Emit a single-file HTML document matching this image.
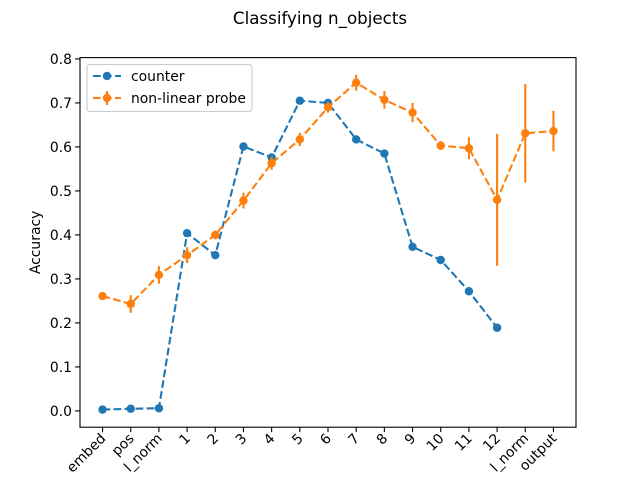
<!DOCTYPE html>
<html><head><meta charset="utf-8"><style>
body{margin:0;background:#fff;font-family:"Liberation Sans","DejaVu Sans",sans-serif;}
svg text{font-family:"DejaVu Sans","Liberation Sans",sans-serif;}
</style></head><body>
<svg id="chart" width="640" height="480" xmlns="http://www.w3.org/2000/svg"></svg>
<script>
const categories=["embed","pos","l_norm","1","2","3","4","5","6","7","8","9","10","11","12","l_norm","output"];
const counterValues=[0.003,0.005,0.006,0.404,0.354,0.601,0.576,0.705,0.700,0.617,0.585,0.373,0.343,0.272,0.189];
const probeValues=[0.261,0.243,0.309,0.354,0.400,0.478,0.563,0.617,0.690,0.746,0.707,0.678,0.603,0.597,0.480,0.631,0.636];
const probeErrors=[0.008,0.02,0.02,0.018,0.01,0.018,0.015,0.015,0.012,0.018,0.02,0.022,0.01,0.025,0.15,0.112,0.046];
const yTicks=[0.0,0.1,0.2,0.3,0.4,0.5,0.6,0.7,0.8];
const NS="http://www.w3.org/2000/svg";
const svg=document.getElementById('chart');
const L=80,R=576,T=57.6,B=427.2;
const FS=13.9;
const xs=i=>L+(i+0.8)/17.6*(R-L);
const ys=v=>B-(v+0.037)/0.84*(B-T);
function mk(tag,attrs,parent){const e=document.createElementNS(NS,tag);for(const k in attrs)e.setAttribute(k,attrs[k]);(parent||svg).appendChild(e);return e;}
let t=mk('text',{x:320,y:24,'text-anchor':'middle','font-size':16.7});t.textContent='Classifying n_objects';


yTicks.forEach(v=>{const y=ys(v);mk('line',{x1:L-4.9,x2:L,y1:y,y2:y,stroke:'#000','stroke-width':1.1});
const tx=mk('text',{x:L-8,y:y+5,'text-anchor':'end','font-size':FS});tx.textContent=v.toFixed(1);

});
categories.forEach((c,i)=>{const x=xs(i);mk('line',{x1:x,x2:x,y1:B,y2:B+4.9,stroke:'#000','stroke-width':1.1});
const tx=mk('text',{x:0,y:0,'text-anchor':'end','font-size':FS,transform:`translate(${x+4},${B+12}) rotate(-45)`});tx.textContent=c;

});
const yl=mk('text',{x:0,y:0,'text-anchor':'middle','font-size':FS,transform:`translate(40,${(T+B)/2}) rotate(-90)`});yl.textContent='Accuracy';


const DASH='7.7,3.3';
const g1=mk('g',{});


mk('polyline',{points:counterValues.map((v,i)=>xs(i)+','+ys(v)).join(' '),fill:'none',stroke:'#1f77b4','stroke-width':2.1,'stroke-dasharray':DASH},g1);
counterValues.forEach((v,i)=>{const c=mk('circle',{cx:xs(i),cy:ys(v),r:4.2,fill:'#1f77b4'},g1);

});
const g2=mk('g',{});


probeValues.forEach((v,i)=>{const e=mk('line',{x1:xs(i),x2:xs(i),y1:ys(v-probeErrors[i]),y2:ys(v+probeErrors[i]),stroke:'#ff7f0e','stroke-width':2.1},g2);

});
mk('polyline',{points:probeValues.map((v,i)=>xs(i)+','+ys(v)).join(' '),fill:'none',stroke:'#ff7f0e','stroke-width':2.1,'stroke-dasharray':DASH},g2);
probeValues.forEach((v,i)=>{const c=mk('circle',{cx:xs(i),cy:ys(v),r:4.2,fill:'#ff7f0e'},g2);

});
mk('rect',{x:L,y:T,width:R-L,height:B-T,fill:'none',stroke:'#000','stroke-width':1.1});
const lg=mk('g',{});


mk('rect',{x:87,y:64.5,width:165,height:47,fill:'#fff',stroke:'#ccc','stroke-width':1.1,rx:3},lg);
[['counter','#1f77b4',76],['non-linear probe','#ff7f0e',98]].forEach(([n,c,y],k)=>{
mk('line',{x1:93,x2:121,y1:y,y2:y,stroke:c,'stroke-width':2.1,'stroke-dasharray':DASH},lg);
if(k==1)mk('line',{x1:107,x2:107,y1:y-7,y2:y+7,stroke:c,'stroke-width':2.1},lg);
mk('circle',{cx:107,cy:y,r:4.2,fill:c},lg);
const tx=mk('text',{x:131,y:y+5,'font-size':FS},lg);tx.textContent=n;

});
</script>
</body></html>
